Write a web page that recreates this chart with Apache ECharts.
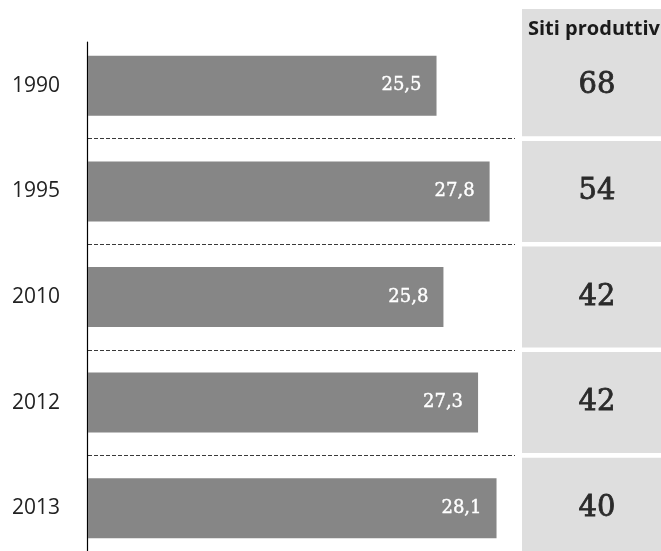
<!DOCTYPE html>
<html>
<head>
<meta charset="utf-8">
<script src="https://cdn.jsdelivr.net/npm/echarts@6/dist/echarts.min.js"></script>
<style>
  html, body { margin: 0; padding: 0; background: #fff; }
  #chart { width: 661px; height: 551px; }
</style>
</head>
<body>
<div id="chart"></div>
<script>
// Years shown on the left, values of the bars, and production sites per year
const years = ['1990', '1995', '2010', '2012', '2013'];
const values = [25.5, 27.8, 25.8, 27.3, 28.1];
const sites = [68, 54, 42, 42, 40];
const sitesTitle = 'Siti produttivi';

// Italian decimal comma
const fmt = v => String(v).replace('.', ',');

const chart = echarts.init(document.getElementById('chart'), null, { renderer: 'canvas' });

chart.setOption({
  animation: false,
  backgroundColor: '#ffffff',
  grid: [
    // bars: the last band runs past the bottom edge of the page
    { left: 88, right: 146, top: 33, height: 528, outerBoundsMode: 'none' },
    // sites panel, running past the right edge
    { left: 522, width: 150, top: 33, height: 528, outerBoundsMode: 'none' },
    // vertical baseline
    { left: 87, width: 1, top: 42, bottom: 0, outerBoundsMode: 'none' }
  ],
  xAxis: [
    { gridIndex: 0, type: 'value', min: 10.4, max: 28.9, show: false },
    { gridIndex: 1, type: 'value', min: 0, max: 1, show: false },
    { gridIndex: 2, type: 'value', min: 0, max: 1, show: false }
  ],
  yAxis: [
    {
      gridIndex: 0,
      type: 'category',
      inverse: true,
      data: years,
      axisLine: { show: false },
      axisTick: { show: false },
      axisLabel: {
        margin: 28,
        color: '#222',
        fontFamily: 'Open Sans',
        fontSize: 21
      },
      splitLine: {
        show: true,
        interval: (idx) => idx !== 0,
        lineStyle: { color: '#3a3a3a', width: 1, type: [4, 2] }
      }
    },
    {
      gridIndex: 1,
      type: 'category',
      inverse: true,
      data: years,
      show: false
    },
    {
      gridIndex: 2,
      type: 'value',
      axisLine: { show: true, onZero: false, lineStyle: { color: '#000', width: 1.2 } },
      axisTick: { show: false },
      axisLabel: { show: false },
      splitLine: { show: false }
    }
  ],
  series: [
    {
      type: 'bar',
      xAxisIndex: 0,
      yAxisIndex: 0,
      data: values,
      barWidth: 60,
      itemStyle: { color: '#868686' },
      label: {
        show: true,
        position: 'insideRight',
        distance: 15,
        formatter: p => fmt(p.value),
        color: '#ffffff',
        fontFamily: 'DejaVu Serif',
        fontSize: 18,
        textBorderColor: '#ffffff',
        textBorderWidth: 0.4
      }
    },
    {
      type: 'bar',
      xAxisIndex: 1,
      yAxisIndex: 1,
      data: sites.map(() => 1),
      barWidth: 101,
      itemStyle: { color: '#dedede' },
      label: {
        show: true,
        position: 'inside',
        formatter: p => String(sites[p.dataIndex]),
        color: '#2a2a2a',
        fontFamily: 'DejaVu Serif',
        fontSize: 29,
        textBorderColor: '#2a2a2a',
        textBorderWidth: 0.8
      }
    }
  ],
  graphic: [
    {
      type: 'rect',
      left: 522,
      top: 9,
      shape: { width: 150, height: 30 },
      style: { fill: '#dedede' },
      z: 1
    },
    {
      type: 'text',
      left: 528,
      top: 19,
      style: {
        text: sitesTitle,
        fill: '#1a1a1a',
        font: 'bold 20px "Open Sans"'
      },
      z: 100
    }
  ]
});
</script>
</body>
</html>
